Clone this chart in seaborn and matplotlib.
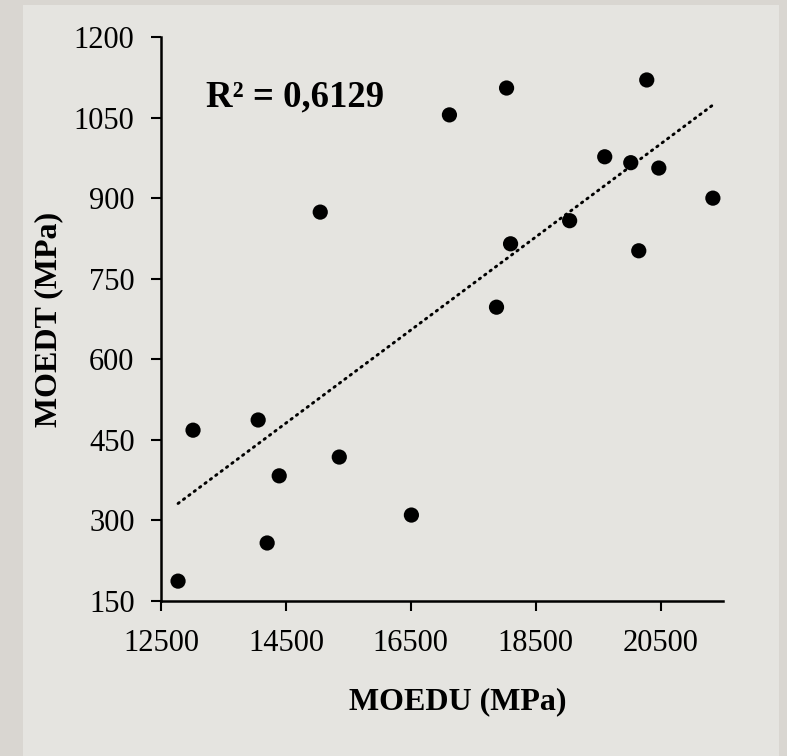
import numpy as np
import pandas as pd
import matplotlib
matplotlib.use("Agg")
import matplotlib.pyplot as plt
from matplotlib.patches import Rectangle
import seaborn as sns

# Dynamic modulus of elasticity: ultrasound (MOEDU) vs. transverse vibration (MOEDT)
moedu = [12773, 13013, 14056, 14200, 14393, 15050, 15355, 16510, 17119, 17873,
         18034, 18098, 19044, 19606, 20023, 20151, 20279, 20472, 21338]
moedt = [187, 468, 487, 258, 383, 874, 418, 310, 1055, 697,
         1105, 815, 858, 977, 966, 802, 1120, 956, 900]
r2_label = "R² = 0,6129"
x_ticks = [12500, 14500, 16500, 18500, 20500]
y_ticks = [150, 300, 450, 600, 750, 900, 1050, 1200]

df = pd.DataFrame({"MOEDU": moedu, "MOEDT": moedt})

sns.set_style("white")
plt.rcParams["font.family"] = ["Liberation Serif", "DejaVu Serif"]

outer = "#d9d6d1"
inner = "#e5e4e0"

fig = plt.figure(figsize=(7.87, 7.56), dpi=100, facecolor=outer)
panel = Rectangle((23 / 787, 0), (779 - 23) / 787, 1 - 5 / 756,
                  transform=fig.transFigure, facecolor=inner,
                  edgecolor="none", zorder=-10)
fig.patches.append(panel)
ax = fig.add_axes([161 / 787, 1 - 601 / 756, (723 - 161) / 787, (601 - 37) / 756])
ax.set_facecolor("none")
ax.set_zorder(5)

sns.scatterplot(data=df, x="MOEDU", y="MOEDT", ax=ax, color="black",
                s=120, edgecolor="none", zorder=3)

# least-squares trend line across the measured range
coef = np.polyfit(df["MOEDU"], df["MOEDT"], 1)
xs = np.array([df["MOEDU"].min(), df["MOEDU"].max()])
ax.plot(xs, np.polyval(coef, xs), color="black", lw=2.1,
        linestyle=(0, (0.5, 1.8)), dash_capstyle="round", zorder=2)

ax.text(13222, 1088, r2_label, fontsize=26.5, fontweight="bold", ha="left",
        va="center", color="black")

ax.set_xlim(12500, 21500)
ax.set_ylim(150, 1200)
ax.set_xticks(x_ticks)
ax.set_yticks(y_ticks)
ax.tick_params(axis="both", which="major", labelsize=22, length=7, width=1.5,
               direction="out", color="black", labelcolor="black",
               bottom=True, left=True)
ax.tick_params(axis="x", pad=13)
ax.tick_params(axis="y", pad=12)

for side in ["top", "right"]:
    ax.spines[side].set_visible(False)
for side in ["left", "bottom"]:
    ax.spines[side].set_color("black")
    ax.spines[side].set_linewidth(1.8)

ax.set_xlabel("MOEDU (MPa)", fontsize=23, fontweight="bold", color="black")
ax.set_ylabel("MOEDT (MPa)", fontsize=23, fontweight="bold", color="black")
ax.xaxis.label.set_va("center")
ax.yaxis.label.set_va("center")
ax.xaxis.set_label_coords((458 - 161) / 562, (601 - 702) / 564)
ax.yaxis.set_label_coords((49 - 161) / 562, 0.5)

fig.savefig("out.png", dpi=100, facecolor=outer)
